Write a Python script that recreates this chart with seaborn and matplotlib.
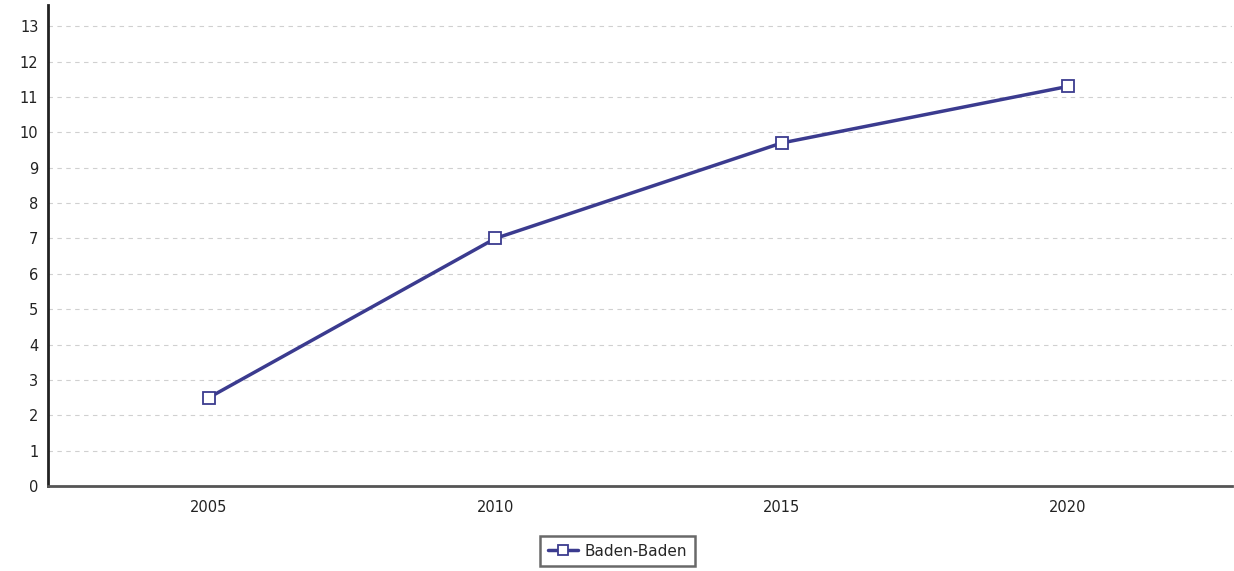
import matplotlib
matplotlib.use("Agg")
import matplotlib.pyplot as plt
import pandas as pd
import seaborn as sns

years = [2005, 2010, 2015, 2020]
values = [2.5, 7.0, 9.7, 11.3]
series_name = "Baden-Baden"

sns.set_style("white")
plt.rcParams['font.family'] = ['DejaVu Sans']

df = pd.DataFrame({"year": years, "value": values, "city": series_name})

fig = plt.figure(figsize=(12.34, 5.71), dpi=100)
ax = fig.add_axes([0.039, 0.149, 0.959, 0.842])

line_color = "#3b3b8f"
sns.lineplot(data=df, x="year", y="value", ax=ax, color=line_color, linewidth=2.5,
             marker="s", markersize=9, markerfacecolor="white",
             markeredgecolor=line_color, markeredgewidth=1.3, label=series_name)

ax.set_xlim(2002.19, 2022.86)
ax.set_ylim(0, 13.6)
ax.set_xticks(years)
ax.set_yticks(range(0, 14))
ax.set_xlabel("")
ax.set_ylabel("")
ax.grid(axis="y", color="#d0d0d0", linestyle=(0, (4, 4)), linewidth=0.8)
ax.tick_params(axis="y", length=4, width=1, color="#333333", labelsize=10.5, pad=3)
ax.tick_params(axis="x", length=0, labelsize=10.5, pad=10)
for lab in ax.get_xticklabels() + ax.get_yticklabels():
    lab.set_color("#222222")

for side in ["top", "right"]:
    ax.spines[side].set_visible(False)
ax.spines["left"].set_color("#222222")
ax.spines["left"].set_linewidth(2)
ax.spines["bottom"].set_color("#555555")
ax.spines["bottom"].set_linewidth(2)

leg = ax.legend(loc="upper center", bbox_to_anchor=(0.481, -0.088), frameon=True,
                fancybox=False, fontsize=11, handlelength=2.0, borderpad=0.5,
                handletextpad=0.4, markerscale=0.8)
leg.get_frame().set_edgecolor("#444444")
leg.get_frame().set_linewidth(1.8)

fig.savefig("out.png", dpi=100)
